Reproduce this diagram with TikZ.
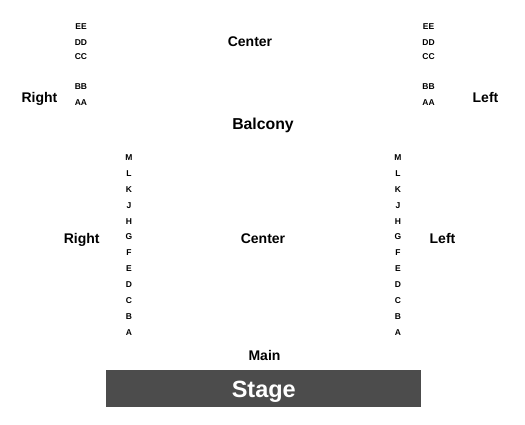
\documentclass[tikz,border=0pt]{standalone}
\usepackage{fontspec}
\setmainfont{Liberation Sans}
\begin{document}
\begin{tikzpicture}[x=1pt,y=-1pt,
  big/.style={font=\bfseries\fontsize{14}{16}\selectfont, inner sep=0pt, anchor=base},
  row/.style={font=\bfseries\fontsize{8.5}{10}\selectfont, inner sep=0pt, anchor=base},
  stagebox/.style={fill=black!70, draw=none},
]
\useasboundingbox (0,0) rectangle (525,425);
% balcony
\node[big] (bcenter) at (250,46.7) {Center};
\node[big] (bright) at (39.5,102.3) {Right};
\node[big] (bleft) at (485.5,103) {Left};
\node[big, font=\bfseries\fontsize{15.8}{18}\selectfont] (balcony) at (263,129.3) {Balcony};
\foreach \r/\y in {EE/29.3,DD/45.8,CC/60,BB/89.5,AA/105.8}{
  \node[row] (bl\r) at (81,\y) {\r};
  \node[row] (br\r) at (428.5,\y) {\r};
}
% main
\node[big] (mcenter) at (263,243.3) {Center};
\node[big] (mright) at (81.7,243.3) {Right};
\node[big] (mleft) at (442.5,243.3) {Left};
\foreach \r [count=\i from 0] in {M,L,K,J,H,G,F,E,D,C,B,A}{
  \node[row] (ml\r) at (129,160.7+15.85*\i) {\r};
  \node[row] (mr\r) at (398,160.7+15.85*\i) {\r};
}
\node[big] (main) at (264.5,360) {Main};
\node[stagebox, minimum width=315pt, minimum height=37pt, inner sep=0pt] (stage) at (263.5,388.5) {};
\node[font=\bfseries\fontsize{23.5}{26}\selectfont, text=white, inner sep=0pt, anchor=base] (stagelabel) at (263.8,397.3) {Stage};
\end{tikzpicture}
\end{document}
